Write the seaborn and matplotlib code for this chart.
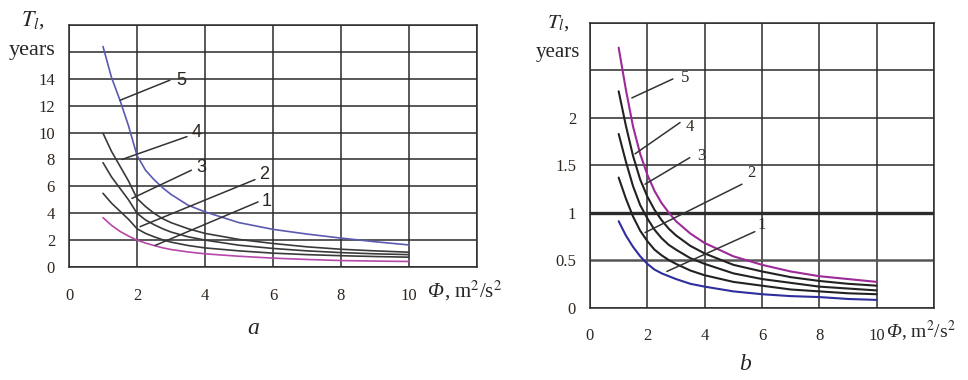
import pandas as pd
import matplotlib
matplotlib.use("Agg")
import matplotlib.pyplot as plt
import seaborn as sns

# values, curves 1..5
PHI = [1, 1.25, 1.5, 1.75, 2, 2.25, 2.5, 2.75, 3, 3.5, 4, 5, 6, 7, 8, 9, 10]

A_CURVE_1 = [3.67, 3.1, 2.65, 2.3, 2.0, 1.78, 1.6, 1.43, 1.3, 1.12, 0.98, 0.8, 0.66, 0.56, 0.48, 0.44, 0.41]
A_CURVE_2 = [5.48, 4.75, 4.15, 3.55, 2.85, 2.5, 2.25, 2.03, 1.85, 1.6, 1.42, 1.2, 1.03, 0.92, 0.84, 0.78, 0.73]
A_CURVE_3 = [7.76, 6.7, 5.85, 5.0, 4.0, 3.5, 3.15, 2.85, 2.6, 2.25, 2.0, 1.62, 1.38, 1.2, 1.07, 0.98, 0.92]
A_CURVE_4 = [9.95, 8.6, 7.5, 6.4, 5.1, 4.5, 4.0, 3.6, 3.3, 2.85, 2.5, 2.05, 1.75, 1.5, 1.32, 1.2, 1.1]
A_CURVE_5 = [16.4, 14.1, 12.4, 10.5, 8.3, 7.2, 6.5, 5.9, 5.4, 4.6, 4.1, 3.3, 2.8, 2.45, 2.15, 1.88, 1.64]

B_CURVE_1 = [0.91, 0.76, 0.64, 0.54, 0.46, 0.4, 0.36, 0.33, 0.3, 0.25, 0.22, 0.17, 0.14, 0.12, 0.11, 0.09, 0.08]
B_CURVE_2 = [1.37, 1.15, 0.96, 0.81, 0.7, 0.61, 0.55, 0.5, 0.46, 0.39, 0.34, 0.27, 0.23, 0.19, 0.17, 0.15, 0.14]
B_CURVE_3 = [1.83, 1.54, 1.28, 1.08, 0.94, 0.82, 0.73, 0.66, 0.61, 0.52, 0.46, 0.36, 0.3, 0.26, 0.22, 0.2, 0.18]
B_CURVE_4 = [2.28, 1.92, 1.6, 1.35, 1.17, 1.03, 0.92, 0.83, 0.76, 0.65, 0.57, 0.45, 0.38, 0.32, 0.28, 0.25, 0.23]
B_CURVE_5 = [2.74, 2.3, 1.91, 1.62, 1.4, 1.23, 1.1, 1.0, 0.91, 0.78, 0.68, 0.54, 0.45, 0.38, 0.33, 0.3, 0.27]

A_XTICKS = [0, 2, 4, 6, 8, 10, 12]
A_XLABELS = ["0", "2", "4", "6", "8", "10", ""]
A_YTICKS = [0, 2, 4, 6, 8, 10, 12, 14, 16, 18]
A_YLABELS = ["0", "2", "4", "6", "8", "10", "12", "14", "", ""]

B_XTICKS = [0, 2, 4, 6, 8, 10, 12]
B_XLABELS = ["0", "2", "4", "6", "8", "10", ""]
B_YTICKS = [0, 0.5, 1, 1.5, 2, 2.5, 3]
B_YLABELS = ["0", "0.5", "1", "1.5", "2", "", ""]

LABELS = ["1", "2", "3", "4", "5"]

# leader lines: (start, end, label position)
A_LEADERS = [
    ((2.53, 1.6), (5.56, 4.84), (5.8, 4.9)),
    ((2.09, 3.0), (5.47, 6.5), (5.75, 6.9)),
    ((1.85, 5.1), (3.6, 7.2), (3.9, 7.4)),
    ((1.56, 8.0), (3.47, 9.7), (3.75, 10.0)),
    ((1.5, 12.4), (2.97, 13.9), (3.3, 13.9)),
]
B_LEADERS = [
    ((2.68, 0.38), (5.75, 0.80), (6.0, 0.87)),
    ((1.92, 0.79), (5.3, 1.30), (5.64, 1.42)),
    ((1.92, 1.30), (3.48, 1.58), (3.9, 1.6)),
    ((1.57, 1.62), (3.14, 1.95), (3.48, 1.9)),
    ((1.46, 2.21), (2.89, 2.41), (3.31, 2.42)),
]

GRID = "#2b2b2b"
INK = "#2e2620"


def long_table(curves):
    rows = []
    for name, values in zip(LABELS, curves):
        for x, y in zip(PHI, values):
            rows.append({"phi": x, "t": y, "curve": name})
    return pd.DataFrame(rows)


def style_axes(ax, xticks, xlabels, yticks, ylabels, ylim, tick_size):
    ax.set_xlim(0, 12)
    ax.set_ylim(*ylim)
    ax.set_xticks(xticks)
    ax.set_xticklabels(xlabels)
    ax.set_yticks(yticks)
    ax.set_yticklabels(ylabels)
    ax.grid(True, color=GRID, linewidth=1.1)
    ax.set_axisbelow(True)
    for spine in ax.spines.values():
        spine.set_visible(True)
        spine.set_color(GRID)
        spine.set_linewidth(1.1)
    ax.tick_params(axis="x", length=4, width=1.1, color=GRID, pad=11,
                   labelsize=tick_size, labelcolor=INK)
    ax.tick_params(axis="y", length=4, width=1.1, color=GRID, pad=6,
                   labelsize=tick_size, labelcolor=INK)
    ax.set_xlabel("")
    ax.set_ylabel("")


def draw_leaders(ax, leaders, family, size):
    for name, (start, end, pos) in zip(LABELS, leaders):
        ax.plot([start[0], end[0]], [start[1], end[1]], color="#333333", lw=1.1)
        ax.text(pos[0], pos[1], name, ha="center", va="center",
                fontsize=size, family=family, color=INK)


def phi_label(fig, ax, x, y, size):
    # italic Phi, then the units on the same baseline
    t = fig.text(x, y, "Φ", ha="left", va="baseline", fontsize=size, style="italic")
    ax.annotate(", m$^2$/s$^2$", xy=(1, y), xycoords=(t, "figure fraction"),
                ha="left", va="baseline", fontsize=size, annotation_clip=False)


def main():
    sns.set_style("white")
    plt.rcParams["font.family"] = ["Liberation Serif", "DejaVu Serif"]
    plt.rcParams["mathtext.fontset"] = "stix"

    fig = plt.figure(figsize=(9.68, 3.8), dpi=100)
    ax_a = fig.add_axes([69 / 968, 1 - 267 / 380, 408 / 968, 242 / 380])
    ax_b = fig.add_axes([590 / 968, 1 - 307.5 / 380, 344 / 968, 284.5 / 380])

    df_a = long_table([A_CURVE_1, A_CURVE_2, A_CURVE_3, A_CURVE_4, A_CURVE_5])
    pal_a = {"1": "#b548a8", "2": "#3a3a3a", "3": "#3a3a3a", "4": "#3a3a3a", "5": "#5a5ab0"}
    sns.lineplot(data=df_a, x="phi", y="t", hue="curve", palette=pal_a,
                 linewidth=1.2, legend=False, ax=ax_a)
    style_axes(ax_a, A_XTICKS, A_XLABELS, A_YTICKS, A_YLABELS, (0, 18), 12)
    draw_leaders(ax_a, A_LEADERS, "Liberation Sans", 13)

    df_b = long_table([B_CURVE_1, B_CURVE_2, B_CURVE_3, B_CURVE_4, B_CURVE_5])
    pal_b = {"1": "#2e2e9e", "2": "#222222", "3": "#222222", "4": "#222222", "5": "#9c2a98"}
    sns.lineplot(data=df_b, x="phi", y="t", hue="curve", palette=pal_b,
                 linewidth=1.5, legend=False, ax=ax_b)
    style_axes(ax_b, B_XTICKS, B_XLABELS, B_YTICKS, B_YLABELS, (0, 3), 12)
    # heavier rules at 0.5 and 1
    for gl, y in zip(ax_b.get_ygridlines(), B_YTICKS):
        if y == 1:
            gl.set_linewidth(2.4)
        elif y == 0.5:
            gl.set_linewidth(1.8)
            gl.set_color("#555555")
    draw_leaders(ax_b, B_LEADERS, "Liberation Serif", 12)

    # axis titles, placed like the printed figure
    fig.text(33 / 968, 1 - 20 / 380, r"$T_l$,", ha="center", va="center", fontsize=16)
    fig.text(32 / 968, 1 - 50 / 380, "years", ha="center", va="center", fontsize=16)
    fig.text(558 / 968, 1 - 23 / 380, r"$T_l$,", ha="center", va="center", fontsize=15)
    fig.text(558 / 968, 1 - 52 / 380, "years", ha="center", va="center", fontsize=15)
    phi_label(fig, ax_a, 428 / 968, 1 - 297 / 380, 15)
    phi_label(fig, ax_b, 886 / 968, 1 - 337 / 380, 14)
    fig.text(253 / 968, 1 - 328 / 380, "a", ha="center", va="center",
             fontsize=17, style="italic")
    fig.text(745 / 968, 1 - 365 / 380, "b", ha="center", va="center",
             fontsize=17, style="italic")

    fig.savefig("out.png", dpi=100)


if __name__ == "__main__":
    main()
